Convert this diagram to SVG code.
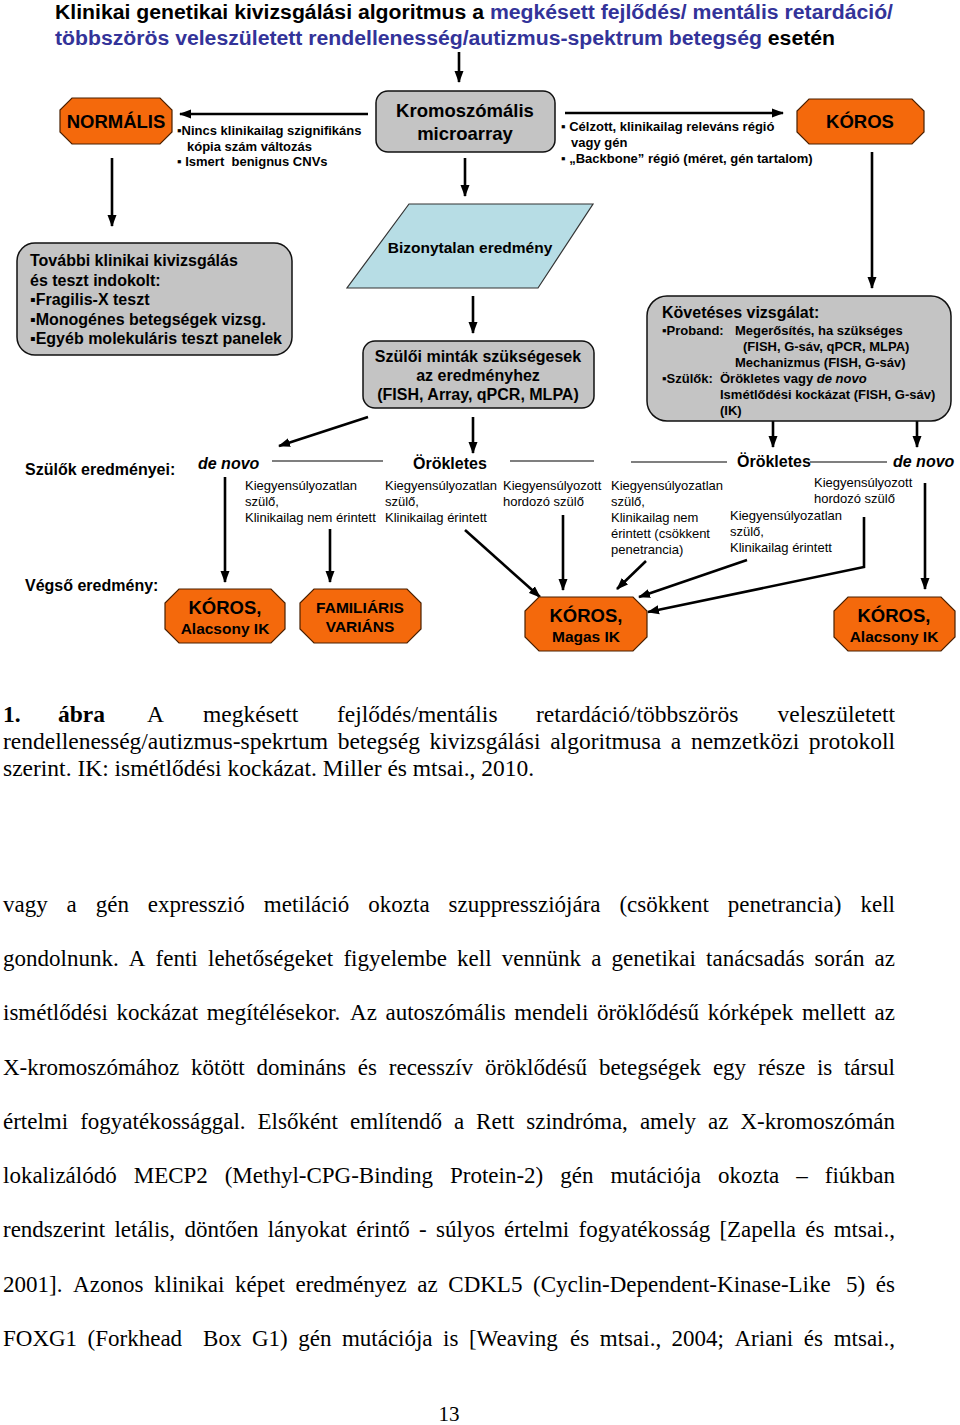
<svg xmlns="http://www.w3.org/2000/svg" width="960" height="1425" viewBox="0 0 960 1425">
<style>
.b{font-family:"Liberation Sans",Arial,sans-serif;font-weight:bold;fill:#000}
.r{font-family:"Liberation Sans",Arial,sans-serif;fill:#000}
.t{font-family:"Liberation Serif","Times New Roman",serif;fill:#000}
.oct{fill:#f4690c;stroke:#4a2000;stroke-width:1.2}
.gray{fill:#c4c4c4;stroke:#111;stroke-width:1.5}
.con{stroke:#000;stroke-width:2.6;fill:none}
.thin{stroke:#000;stroke-width:1.2;fill:none}
.blue{fill:#333399}
</style>
<defs>
<marker id="ah" markerUnits="userSpaceOnUse" markerWidth="12" markerHeight="10" viewBox="0 0 12 10" refX="11" refY="5" orient="auto"><path d="M0,0.5 L12,5 L0,9.5 z" fill="#000"/></marker>
</defs>
<rect width="960" height="1425" fill="#fff"/>

<g id="title">
<text class="b" x="55" y="19" font-size="20" textLength="838" lengthAdjust="spacingAndGlyphs">Klinikai genetikai kivizsgálási algoritmus a <tspan class="blue">megkésett fejlődés/ mentális retardáció/</tspan></text>
<text class="b" x="55" y="45" font-size="20" textLength="780" lengthAdjust="spacingAndGlyphs"><tspan class="blue">többszörös veleszületett rendellenesség/autizmus-spektrum betegség</tspan> esetén</text>
</g>

<g id="connectors">
<line class="con" x1="459" y1="52" x2="459" y2="82" marker-end="url(#ah)"/>
<line class="con" x1="368" y1="114" x2="180" y2="114" marker-end="url(#ah)"/>
<line class="con" x1="565" y1="113" x2="783" y2="113" marker-end="url(#ah)"/>
<line class="con" x1="112" y1="158" x2="112" y2="226" marker-end="url(#ah)"/>
<line class="con" x1="465" y1="158" x2="465" y2="196" marker-end="url(#ah)"/>
<line class="con" x1="872" y1="152" x2="872" y2="288" marker-end="url(#ah)"/>
<line class="con" x1="473" y1="296" x2="473" y2="333" marker-end="url(#ah)"/>
<line class="con" x1="368" y1="417" x2="279" y2="446" marker-end="url(#ah)"/>
<line class="con" x1="473" y1="417" x2="473" y2="453" marker-end="url(#ah)"/>
<line class="con" x1="773" y1="421" x2="773" y2="447" marker-end="url(#ah)"/>
<line class="con" x1="917" y1="421" x2="917" y2="447" marker-end="url(#ah)"/>
<line class="thin" x1="272" y1="461" x2="383" y2="461"/>
<line class="thin" x1="510" y1="461" x2="594" y2="461"/>
<line class="thin" x1="631" y1="462" x2="727" y2="462"/>
<line class="thin" x1="810" y1="462" x2="887" y2="462"/>
<line class="con" x1="225" y1="477" x2="225" y2="582" marker-end="url(#ah)"/>
<line class="con" x1="330" y1="529" x2="330" y2="582" marker-end="url(#ah)"/>
<line class="con" x1="465" y1="530" x2="540" y2="597" marker-end="url(#ah)"/>
<line class="con" x1="563" y1="515" x2="563" y2="590" marker-end="url(#ah)"/>
<line class="con" x1="646" y1="561" x2="617" y2="589" marker-end="url(#ah)"/>
<line class="con" x1="747" y1="560" x2="639" y2="597" marker-end="url(#ah)"/>
<polyline class="con" points="864,517 864,567 648,612" marker-end="url(#ah)"/>
<line class="con" x1="925" y1="483" x2="925" y2="589" marker-end="url(#ah)"/>
</g>

<g id="microarray">
<rect class="gray" x="376" y="91" width="179" height="61" rx="12"/>
<text class="b" x="465" y="117" font-size="18.5" text-anchor="middle">Kromoszómális</text>
<text class="b" x="465" y="140" font-size="18.5" text-anchor="middle">microarray</text>
</g>

<g id="normalis">
<polygon class="oct" points="72,98 160,98 172,110 172,132 160,144 72,144 60,132 60,110"/>
<text class="b" x="116" y="128" font-size="18.5" text-anchor="middle">NORMÁLIS</text>
</g>

<g id="normalis-label">
<text class="b" x="177" y="135" font-size="13">▪Nincs klinikailag szignifikáns</text>
<text class="b" x="187" y="151" font-size="13">kópia szám változás</text>
<text class="b" x="177" y="166" font-size="13" xml:space="preserve">▪ Ismert  benignus CNVs</text>
</g>

<g id="koros-top">
<polygon class="oct" points="809,99 912,99 924,111 924,132 912,144 809,144 797,132 797,111"/>
<text class="b" x="860" y="128" font-size="18.5" text-anchor="middle">KÓROS</text>
</g>

<g id="koros-label">
<text class="b" x="561" y="131" font-size="13">▪ Célzott, klinikailag releváns régió</text>
<text class="b" x="571" y="147" font-size="13">vagy gén</text>
<text class="b" x="561" y="163" font-size="13">▪ „Backbone” régió (méret, gén tartalom)</text>
</g>

<g id="tovabbi">
<rect class="gray" x="17" y="243" width="275" height="112" rx="18"/>
<text class="b" x="30" y="266" font-size="16">További klinikai kivizsgálás</text>
<text class="b" x="30" y="285.5" font-size="16">és teszt indokolt:</text>
<text class="b" x="30" y="305" font-size="16">▪Fragilis-X teszt</text>
<text class="b" x="30" y="324.5" font-size="16">▪Monogénes betegségek vizsg.</text>
<text class="b" x="30" y="344" font-size="16">▪Egyéb molekuláris teszt panelek</text>
</g>

<g id="bizonytalan">
<polygon points="409,204 593,204 538,288 347,288" fill="#b7dde5" stroke="#333" stroke-width="1.2"/>
<text class="b" x="470" y="253" font-size="15.5" text-anchor="middle">Bizonytalan eredmény</text>
</g>

<g id="szuloi-mintak">
<rect class="gray" x="363" y="341" width="231" height="67" rx="12"/>
<text class="b" x="478" y="362" font-size="16" text-anchor="middle">Szülői minták szükségesek</text>
<text class="b" x="478" y="381" font-size="16" text-anchor="middle">az eredményhez</text>
<text class="b" x="478" y="400" font-size="16" text-anchor="middle">(FISH, Array, qPCR, MLPA)</text>
</g>

<g id="koveteses">
<rect class="gray" x="647" y="296" width="304" height="125" rx="20"/>
<text class="b" x="662" y="318" font-size="16">Követéses vizsgálat:</text>
<text class="b" x="662" y="335" font-size="13">▪Proband:</text>
<text class="b" x="735" y="335" font-size="13">Megerősítés, ha szükséges</text>
<text class="b" x="743" y="351" font-size="13">(FISH, G-sáv, qPCR, MLPA)</text>
<text class="b" x="735" y="367" font-size="13">Mechanizmus (FISH, G-sáv)</text>
<text class="b" x="662" y="383" font-size="13">▪Szülők:</text>
<text class="b" x="720" y="383" font-size="13">Örökletes vagy <tspan font-style="italic">de novo</tspan></text>
<text class="b" x="720" y="399" font-size="13">Ismétlődési kockázat (FISH, G-sáv)</text>
<text class="b" x="720" y="415" font-size="13">(IK)</text>
</g>

<g id="szulok-eredmenyei">
<text class="b" x="25" y="475" font-size="16">Szülők eredményei:</text>
<text class="b" x="198" y="469" font-size="16" font-style="italic">de novo</text>
<text class="b" x="413" y="469" font-size="16">Örökletes</text>
<text class="b" x="737" y="467" font-size="16">Örökletes</text>
<text class="b" x="893" y="467" font-size="16" font-style="italic">de novo</text>
</g>

<g id="parent-results">
<text class="r" x="245" y="490" font-size="13">Kiegyensúlyozatlan</text>
<text class="r" x="245" y="506" font-size="13">szülő,</text>
<text class="r" x="245" y="522" font-size="13">Klinikailag nem érintett</text>
<text class="r" x="385" y="490" font-size="13">Kiegyensúlyozatlan</text>
<text class="r" x="385" y="506" font-size="13">szülő,</text>
<text class="r" x="385" y="522" font-size="13">Klinikailag érintett</text>
<text class="r" x="503" y="490" font-size="13">Kiegyensúlyozott</text>
<text class="r" x="503" y="506" font-size="13">hordozó szülő</text>
<text class="r" x="611" y="490" font-size="13">Kiegyensúlyozatlan</text>
<text class="r" x="611" y="506" font-size="13">szülő,</text>
<text class="r" x="611" y="522" font-size="13">Klinikailag nem</text>
<text class="r" x="611" y="538" font-size="13">érintett (csökkent</text>
<text class="r" x="611" y="554" font-size="13">penetrancia)</text>
<text class="r" x="730" y="520" font-size="13">Kiegyensúlyozatlan</text>
<text class="r" x="730" y="536" font-size="13">szülő,</text>
<text class="r" x="730" y="552" font-size="13">Klinikailag érintett</text>
<text class="r" x="814" y="487" font-size="13">Kiegyensúlyozott</text>
<text class="r" x="814" y="503" font-size="13">hordozó szülő</text>
</g>

<g id="vegso-label">
<text class="b" x="25" y="591" font-size="16">Végső eredmény:</text>
</g>

<g id="koros-alacsony-1">
<polygon class="oct" points="179,589 271,589 285,603 285,629 271,643 179,643 165,629 165,603"/>
<text class="b" x="225" y="614" font-size="18.5" text-anchor="middle">KÓROS,</text>
<text class="b" x="225" y="634" font-size="15.5" text-anchor="middle">Alacsony IK</text>
</g>

<g id="familiaris">
<polygon class="oct" points="314,589 407,589 421,603 421,629 407,643 314,643 300,629 300,603"/>
<text class="b" x="360" y="613" font-size="15.5" text-anchor="middle">FAMILIÁRIS</text>
<text class="b" x="360" y="632" font-size="15.5" text-anchor="middle">VARIÁNS</text>
</g>

<g id="koros-magas">
<polygon class="oct" points="539,597 633,597 647,611 647,637 633,651 539,651 525,637 525,611"/>
<text class="b" x="586" y="622" font-size="18.5" text-anchor="middle">KÓROS,</text>
<text class="b" x="586" y="642" font-size="15.5" text-anchor="middle">Magas IK</text>
</g>

<g id="koros-alacsony-2">
<polygon class="oct" points="848,597 941,597 955,611 955,637 941,651 848,651 834,637 834,611"/>
<text class="b" x="894" y="622" font-size="18.5" text-anchor="middle">KÓROS,</text>
<text class="b" x="894" y="642" font-size="15.5" text-anchor="middle">Alacsony IK</text>
</g>

<g id="caption" class="t" font-size="23.5">
<text class="t" y="722"><tspan x="3" font-weight="bold">1.</tspan><tspan x="58" font-weight="bold">ábra</tspan><tspan x="147">A</tspan><tspan x="203">megkésett</tspan><tspan x="337">fejlődés/mentális</tspan><tspan x="536">retardáció/többszörös</tspan></text>
<text class="t" x="895" y="722" text-anchor="end">veleszületett</text>
<text class="t" y="749"><tspan x="3">rendellenesség/autizmus-spekrtum</tspan><tspan x="337.7">betegség</tspan><tspan x="429.5">kivizsgálási</tspan><tspan x="550.2">algoritmusa</tspan><tspan x="670.8">a</tspan><tspan x="690.9">nemzetközi</tspan></text>
<text class="t" x="895" y="749" text-anchor="end">protokoll</text>
<text class="t" x="3" y="776">szerint. IK: ismétlődési kockázat. Miller és mtsai., 2010.</text>
</g>

<g id="body" class="t" font-size="23">
<text class="t" y="912"><tspan x="3">vagy</tspan><tspan x="66.6">a</tspan><tspan x="95.7">gén</tspan><tspan x="147.8">expresszió</tspan><tspan x="263.8">metiláció</tspan><tspan x="368.3">okozta</tspan><tspan x="448.5">szuppressziójára</tspan><tspan x="619.4">(csökkent</tspan><tspan x="727.7">penetrancia)</tspan></text>
<text class="t" x="895" y="912" text-anchor="end">kell</text>
<text class="t" y="966"><tspan x="3">gondolnunk.</tspan><tspan x="128.8">A</tspan><tspan x="155.6">fenti</tspan><tspan x="208">lehetőségeket</tspan><tspan x="343.4">figyelembe</tspan><tspan x="457.1">kell</tspan><tspan x="501.8">vennünk</tspan><tspan x="591.2">a</tspan><tspan x="611.6">genetikai</tspan><tspan x="706.1">tanácsadás</tspan><tspan x="814.6">során</tspan></text>
<text class="t" x="895" y="966" text-anchor="end">az</text>
<text class="t" y="1020"><tspan x="3">ismétlődési</tspan><tspan x="116.4">kockázat</tspan><tspan x="206.7">megítélésekor.</tspan><tspan x="350.1">Az</tspan><tspan x="385.5">autoszómális</tspan><tspan x="514.2">mendeli</tspan><tspan x="596.9">öröklődésű</tspan><tspan x="707.7">kórképek</tspan><tspan x="801.9">mellett</tspan></text>
<text class="t" x="895" y="1020" text-anchor="end">az</text>
<text class="t" y="1075"><tspan x="3">X-kromoszómához</tspan><tspan x="191.1">kötött</tspan><tspan x="256.6">domináns</tspan><tspan x="357.8">és</tspan><tspan x="388.8">recesszív</tspan><tspan x="484.9">öröklődésű</tspan><tspan x="598.9">betegségek</tspan><tspan x="712.9">egy</tspan><tspan x="757.9">része</tspan><tspan x="816.9">is</tspan></text>
<text class="t" x="895" y="1075" text-anchor="end">társul</text>
<text class="t" y="1129"><tspan x="3">értelmi</tspan><tspan x="80.2">fogyatékossággal.</tspan><tspan x="257.5">Elsőként</tspan><tspan x="350">említendő</tspan><tspan x="453.9">a</tspan><tspan x="476.1">Rett</tspan><tspan x="526.3">szindróma,</tspan><tspan x="639.9">amely</tspan><tspan x="708">az</tspan></text>
<text class="t" x="895" y="1129" text-anchor="end">X-kromoszómán</text>
<text class="t" y="1183"><tspan x="3">lokalizálódó</tspan><tspan x="133.7">MECP2</tspan><tspan x="224.7">(Methyl-CPG-Binding</tspan><tspan x="450">Protein-2)</tspan><tspan x="560.2">gén</tspan><tspan x="610.4">mutációja</tspan><tspan x="718">okozta</tspan><tspan x="796.3">–</tspan></text>
<text class="t" x="895" y="1183" text-anchor="end">fiúkban</text>
<text class="t" y="1237"><tspan x="3">rendszerint</tspan><tspan x="114.4">letális,</tspan><tspan x="184.4">döntően</tspan><tspan x="267.7">lányokat</tspan><tspan x="356.2">érintő</tspan><tspan x="419.1">-</tspan><tspan x="436.1">súlyos</tspan><tspan x="504.1">értelmi</tspan><tspan x="578.6">fogyatékosság</tspan><tspan x="719.4">[Zapella</tspan><tspan x="805.2">és</tspan></text>
<text class="t" x="895" y="1237" text-anchor="end">mtsai.,</text>
<text class="t" y="1292"><tspan x="3">2001].</tspan><tspan x="73.1">Azonos</tspan><tspan x="154">klinikai</tspan><tspan x="235">képet</tspan><tspan x="295.5">eredményez</tspan><tspan x="417.2">az</tspan><tspan x="448.3">CDKL5</tspan><tspan x="533.1">(Cyclin-Dependent-Kinase-Like</tspan><tspan x="846">5)</tspan></text>
<text class="t" x="895" y="1292" text-anchor="end">és</text>
<text class="t" y="1346"><tspan x="3">FOXG1</tspan><tspan x="87.6">(Forkhead</tspan><tspan x="203.1">Box</tspan><tspan x="251.9">G1)</tspan><tspan x="298.2">gén</tspan><tspan x="341.9">mutációja</tspan><tspan x="443.1">is</tspan><tspan x="468.9">[Weaving</tspan><tspan x="570.1">és</tspan><tspan x="599.8">mtsai.,</tspan><tspan x="671.6">2004;</tspan><tspan x="734.5">Ariani</tspan><tspan x="803.8">és</tspan></text>
<text class="t" x="895" y="1346" text-anchor="end">mtsai.,</text>
</g>

<g id="page-number">
<text class="t" x="449" y="1421" font-size="21" text-anchor="middle">13</text>
</g>
</svg>
